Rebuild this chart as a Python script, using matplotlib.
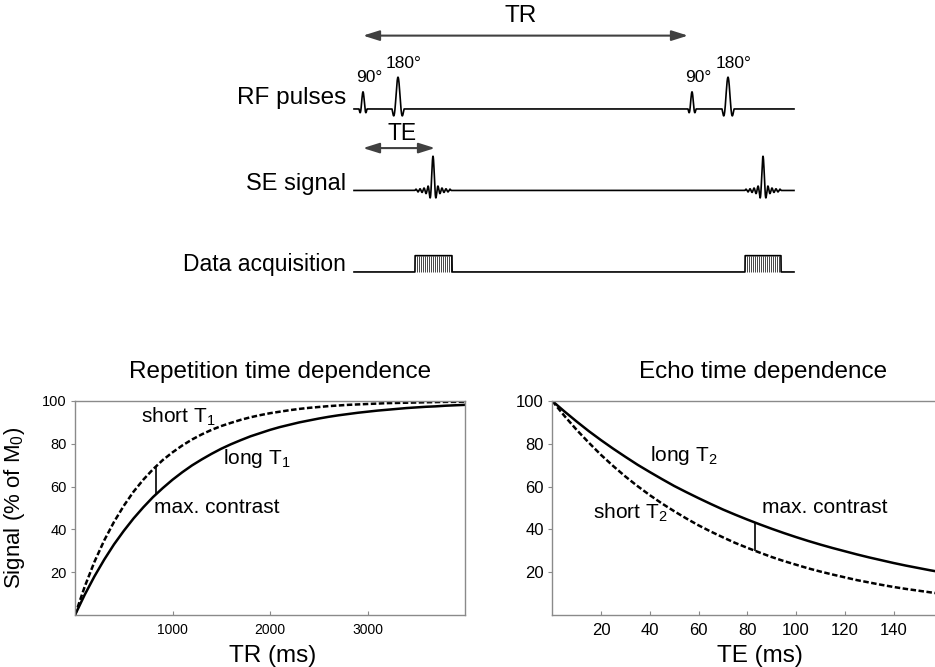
import matplotlib.pyplot as plt
import numpy as np

plt.rcParams['font.family'] = ['Liberation Sans', 'DejaVu Sans']
plt.rcParams['mathtext.fontset'] = 'custom'
plt.rcParams['mathtext.rm'] = 'Liberation Sans'
plt.rcParams['mathtext.it'] = 'Liberation Sans:italic'

# --- spin echo sequence timeline (arbitrary time units) ---
seq_start, seq_end = -9, 431
rf_times = [0, 35, 329, 365]
rf_heights = [0.21, 0.39, 0.21, 0.39]
rf_widths = [2.0, 3.0, 2.0, 3.0]
rf_labels = ['90°', '180°', '90°', '180°']
echo_times = [70, 400]
echo_height = 0.42
acq_windows = [(52, 89), (382, 418)]
acq_height = 0.2
tr_span = (0, 325)
te_span = (0, 72)

# --- repetition time dependence ---
tr_ms = np.arange(0, 4001, 100)
sig_short_t1 = [0, 13.3, 24.9, 34.9, 43.5, 51.0, 57.6, 63.2, 68.1, 72.4, 76.0,
                79.2, 82.0, 84.4, 86.5, 88.3, 89.8, 91.2, 92.4, 93.4, 94.3,
                95.0, 95.7, 96.3, 96.8, 97.2, 97.6, 97.9, 98.2, 98.4, 98.6,
                98.8, 99.0, 99.1, 99.2, 99.3, 99.4, 99.5, 99.6, 99.6, 99.7]
sig_long_t1 = [0, 9.5, 18.1, 25.9, 33.0, 39.3, 45.1, 50.3, 55.1, 59.3, 63.2,
               66.7, 69.9, 72.7, 75.3, 77.7, 79.8, 81.7, 83.5, 85.0, 86.5,
               87.8, 88.9, 90.0, 90.9, 91.8, 92.6, 93.3, 93.9, 94.5, 95.0,
               95.5, 95.9, 96.3, 96.7, 97.0, 97.3, 97.5, 97.8, 98.0, 98.2]
tr_contrast = 830
tr_contrast_sig = (56.5, 69.4)

# --- echo time dependence ---
te_ms = np.arange(0, 161, 5)
sig_long_t2 = [100, 95.1, 90.4, 85.9, 81.7, 77.7, 73.9, 70.2, 66.8, 63.5, 60.3,
               57.4, 54.6, 51.9, 49.3, 46.9, 44.6, 42.4, 40.3, 38.3, 36.4,
               34.6, 32.9, 31.3, 29.8, 28.3, 26.9, 25.6, 24.3, 23.1, 22.0,
               20.9, 19.9]
sig_short_t2 = [100, 93.0, 86.5, 80.5, 74.8, 69.6, 64.7, 60.2, 56.0, 52.1, 48.5,
                45.1, 41.9, 39.0, 36.3, 33.7, 31.4, 29.2, 27.1, 25.2, 23.5,
                21.8, 20.3, 18.9, 17.6, 16.3, 15.2, 14.1, 13.1, 12.2, 11.4,
                10.6, 9.8]
te_contrast = 83
te_contrast_sig = (30.1, 43.3)

fig = plt.figure(figsize=(9.35, 6.67), dpi=100)

# ---------------- pulse sequence diagram ----------------
top = fig.add_axes([0, 1 - 300 / 667, 1, 300 / 667])
top.set_xlim(-363, 572)
top.set_ylim(-0.344, 3.337)
top.axis('off')

t = np.linspace(seq_start, seq_end, 8000)

rf = np.full_like(t, 2.0)
for t0, h, w in zip(rf_times, rf_heights, rf_widths):
    m = np.abs(t - t0) <= 2 * w
    rf[m] += h * np.sinc((t[m] - t0) / w)
top.plot(t, rf, color='black', lw=1.2)

se = np.full_like(t, 1.0)
for t0 in echo_times:
    m = np.abs(t - t0) <= 18
    se[m] += echo_height * np.sinc((t[m] - t0) / 2.0)
top.plot(t, se, color='black', lw=1.2)

acq = np.zeros_like(t)
for a, b in acq_windows:
    acq[(t >= a) & (t <= b)] = acq_height
    top.vlines(np.arange(a + 1.5, b - 0.5, 2.0), 0, acq_height,
               color='#444444', lw=0.7)
top.plot(t, acq, color='black', lw=1.2)

for t0, h, lab in zip(rf_times, rf_heights, rf_labels):
    top.text(t0 + 6, 2 + h + 0.17, lab, ha='center', va='center', fontsize=12.5)

arrow = dict(arrowstyle='<|-|>,head_length=0.7,head_width=0.22',
             color='#404040', lw=1.5, mutation_scale=14, shrinkA=0, shrinkB=0)
top.annotate('', xy=(tr_span[1], 2.9), xytext=(tr_span[0], 2.9), arrowprops=arrow)
top.text(158, 3.135, 'TR', ha='center', va='center', fontsize=17.5)
top.annotate('', xy=(te_span[1], 1.52), xytext=(te_span[0], 1.52), arrowprops=arrow)
top.text(39, 1.693, 'TE', ha='center', va='center', fontsize=16.5)

top.text(-17, 2.135, 'RF pulses', ha='right', va='center', fontsize=17.5)
top.text(-17, 1.08, 'SE signal', ha='right', va='center', fontsize=17)
top.text(-17, 0.086, 'Data acquisition', ha='right', va='center', fontsize=16.5)


def style_axes(ax, xsize, ysize):
    for s in ax.spines.values():
        s.set_color('#8a8a8a')
        s.set_linewidth(1.0)
    ax.tick_params(axis='x', direction='in', length=3, color='#8a8a8a',
                   labelsize=xsize, pad=6)
    ax.tick_params(axis='y', direction='out', length=3, color='#8a8a8a',
                   labelsize=ysize, pad=3)


dash = (0, (2.2, 1.0))

# ---------------- repetition time dependence ----------------
ax1 = fig.add_axes([75 / 935, 52 / 667, 390 / 935, 214 / 667])
ax1.plot(tr_ms, sig_short_t1, color='black', lw=1.8, linestyle=dash)
ax1.plot(tr_ms, sig_long_t1, color='black', lw=1.8)
ax1.vlines(tr_contrast, *tr_contrast_sig, color='black', lw=1.2)
ax1.set_xlim(0, 4000)
ax1.set_ylim(0, 100)
ax1.set_xticks([1000, 2000, 3000])
ax1.set_yticks([20, 40, 60, 80, 100])
style_axes(ax1, 10, 10.5)
ax1.text(676, 92.5, 'short T$_1$', ha='left', va='center', fontsize=15)
ax1.text(1515, 73.3, 'long T$_1$', ha='left', va='center', fontsize=15)
ax1.text(809, 50.3, 'max. contrast', ha='left', va='center', fontsize=15)
ax1.text(0.526, 1.136, 'Repetition time dependence', transform=ax1.transAxes,
         ha='center', va='center', fontsize=17.5)
ax1.set_xlabel('TR (ms)', fontsize=17.5)
ax1.xaxis.set_label_coords(0.508, -0.14)
ax1.set_ylabel('Signal (% of M$_0$)', fontsize=16)
ax1.yaxis.set_label_coords(-0.123, 0.5)

# ---------------- echo time dependence ----------------
ax2 = fig.add_axes([552.3 / 935, 52 / 667, 390 / 935, 214 / 667])
ax2.plot(te_ms, sig_long_t2, color='black', lw=1.8)
ax2.plot(te_ms, sig_short_t2, color='black', lw=1.8, linestyle=dash)
ax2.vlines(te_contrast, *te_contrast_sig, color='black', lw=1.2)
ax2.set_xlim(0, 160)
ax2.set_ylim(0, 100)
ax2.set_xticks([20, 40, 60, 80, 100, 120, 140])
ax2.set_yticks([20, 40, 60, 80, 100])
style_axes(ax2, 12, 12)
ax2.text(40.1, 74.7, 'long T$_2$', ha='left', va='center', fontsize=15)
ax2.text(16.7, 47.5, 'short T$_2$', ha='left', va='center', fontsize=15)
ax2.text(86.1, 50.3, 'max. contrast', ha='left', va='center', fontsize=15)
ax2.text(0.541, 1.136, 'Echo time dependence', transform=ax2.transAxes,
         ha='center', va='center', fontsize=17.5)
ax2.set_xlabel('TE (ms)', fontsize=17.5)
ax2.xaxis.set_label_coords(0.533, -0.14)

fig.savefig('out.png', dpi=100)
